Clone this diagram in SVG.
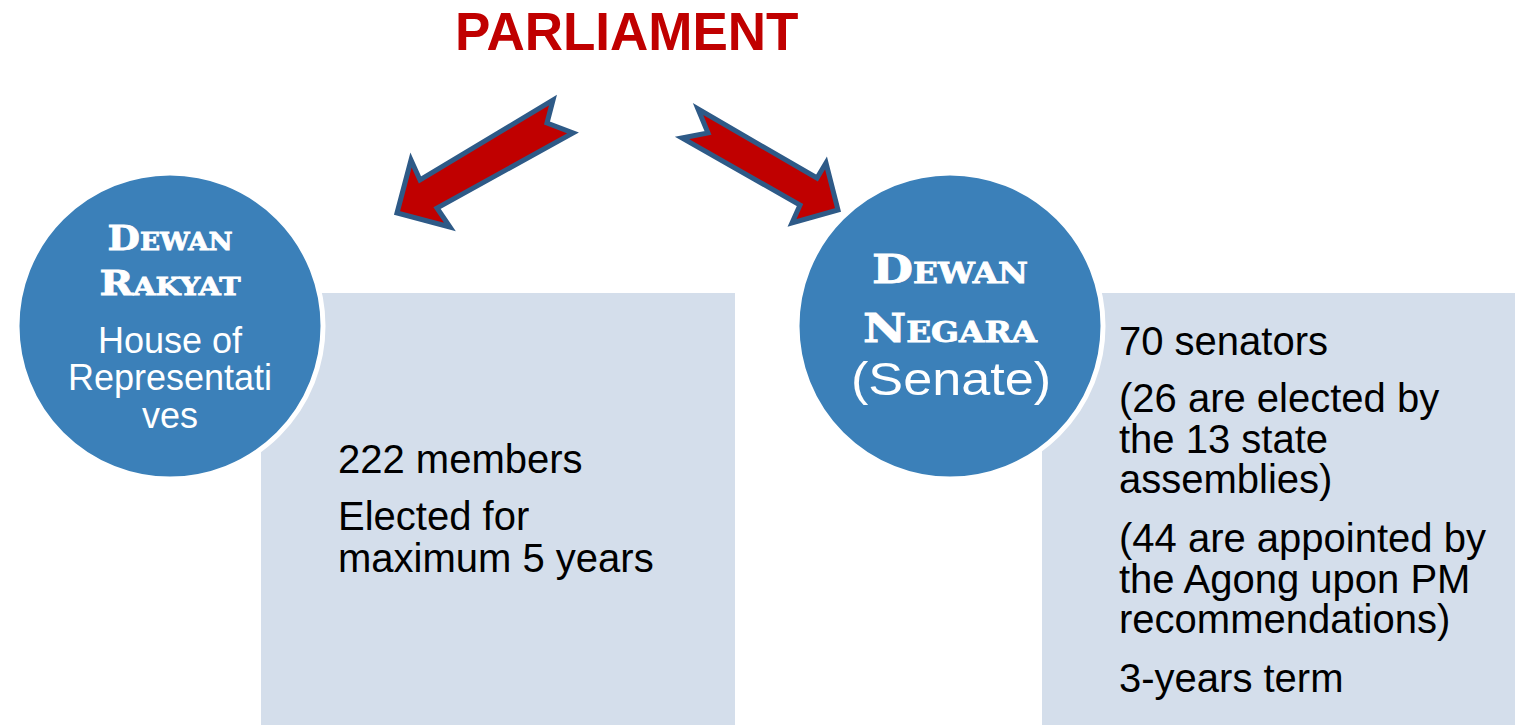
<svg xmlns="http://www.w3.org/2000/svg" width="1521" height="725" viewBox="0 0 1521 725">
  <defs>
    <style>
      .title { font-family: "Liberation Sans", Arial, sans-serif; font-weight: bold; font-size: 53px; fill: #C00000; }
      .box { fill: #D4DEEB; }
      .circle { fill: #3B80B9; stroke: #FFFFFF; stroke-width: 5; }
      .head { font-family: "DejaVu Serif", "Liberation Serif", serif; font-weight: bold; font-variant: small-caps; fill: #FFFFFF; stroke: #FFFFFF; stroke-width: 0.8; text-anchor: middle; }
      .sub { font-family: "Liberation Sans", Arial, sans-serif; fill: #FFFFFF; text-anchor: middle; }
      .body { font-family: "Liberation Sans", Arial, sans-serif; font-size: 40px; fill: #000000; }
      .arrow { fill: #C00000; stroke: #2E5A87; stroke-width: 5; stroke-linejoin: miter; }
    </style>
    <linearGradient id="edge" x1="0" y1="0" x2="1" y2="0">
      <stop offset="0" stop-color="#BCC8D8"/>
      <stop offset="0.03" stop-color="#D4DEEB"/>
      <stop offset="1" stop-color="#D4DEEB"/>
    </linearGradient>
  </defs>

  <rect width="1521" height="725" fill="#FFFFFF"/>

  <text class="title" x="455" y="50">PARLIAMENT</text>

  <!-- connectors: block arrows from the title to each house -->
  <g id="connectors">
    <polygon class="arrow" points="553,100 547,123 573,133 437,208 450,227 397,213 411,160 420,180"/>
    <polygon class="arrow" points="698,109 708,133 682,138 800,205 792,223 838,210 826,163 817,178"/>
  </g>

  <!-- Dewan Rakyat -->
  <g id="dewan-rakyat-box">
    <rect class="box" x="261" y="293" width="474" height="440" fill="url(#edge)"/>
    <text class="body" x="338" y="473">222 members</text>
    <text class="body" x="338" y="530">Elected for</text>
    <text class="body" x="338" y="572">maximum 5 years</text>
  </g>
  <g id="dewan-rakyat">
    <circle class="circle" cx="170" cy="326" r="153"/>
    <text class="head" x="170" y="250" font-size="34" textLength="125" lengthAdjust="spacingAndGlyphs">Dewan</text>
    <text class="head" x="170" y="295" font-size="34" textLength="141" lengthAdjust="spacingAndGlyphs">Rakyat</text>
    <text class="sub" x="170" y="353" font-size="36">House of</text>
    <text class="sub" x="170" y="390" font-size="36">Representati</text>
    <text class="sub" x="170" y="428" font-size="36">ves</text>
  </g>

  <!-- Dewan Negara -->
  <g id="dewan-negara-box">
    <rect class="box" x="1042" y="293" width="473" height="440" fill="url(#edge)"/>
    <text class="body" x="1119" y="355">70 senators</text>
    <text class="body" x="1119" y="412">(26 are elected by</text>
    <text class="body" x="1119" y="453">the 13 state</text>
    <text class="body" x="1119" y="493">assemblies)</text>
    <text class="body" x="1119" y="552">(44 are appointed by</text>
    <text class="body" x="1119" y="593">the Agong upon PM</text>
    <text class="body" x="1119" y="633">recommendations)</text>
    <text class="body" x="1119" y="692">3-years term</text>
  </g>
  <g id="dewan-negara">
    <circle class="circle" cx="950" cy="326" r="153"/>
    <text class="head" x="950" y="283" font-size="39" textLength="156" lengthAdjust="spacingAndGlyphs">Dewan</text>
    <text class="head" x="950" y="342" font-size="39" textLength="174" lengthAdjust="spacingAndGlyphs">Negara</text>
    <text class="sub" x="951" y="395" font-size="46" textLength="200" lengthAdjust="spacingAndGlyphs">(Senate)</text>
  </g>
</svg>
